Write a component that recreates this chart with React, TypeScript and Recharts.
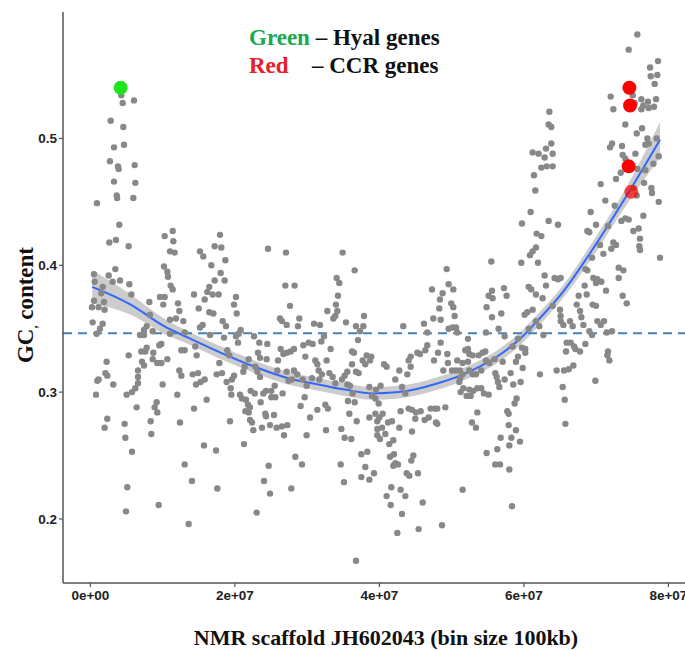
import React from 'react';
import { ComposedChart, Scatter, Line, Area, XAxis, YAxis, ReferenceLine } from 'recharts';

// Axis ticks
const xTicks = [0, 2e7, 4e7, 6e7, 8e7];
const xTickLabels = ['0e+00', '2e+07', '4e+07', '6e+07', '8e+07'];
const yTicks = [0.2, 0.3, 0.4, 0.5];
const yTickLabels = ['0.2', '0.3', '0.4', '0.5'];

// Genome-wide mean GC (dashed line)
const meanGC = 0.3465;

// Bins: [position in Mb, GC content]
const binsMb: [number, number][] = [
  [4.28,0.534],[4.47,0.528],[6.03,0.530],[2.81,0.514],[4.56,0.509],[3.27,0.493],[4.65,0.495],[2.71,0.482],[3.82,0.478],[3.91,0.476],
  [6.13,0.479],[3.27,0.466],[6.22,0.465],[3.64,0.455],[3.70,0.453],[5.94,0.453],[0.91,0.449],[4.00,0.432],[2.62,0.418],[3.54,0.420],
  [5.30,0.415],[10.28,0.423],[11.39,0.427],[11.48,0.419],[11.02,0.411],[11.66,0.410],[10.19,0.399],[10.65,0.395],[10.74,0.391],[11.11,0.384],
  [11.39,0.381],[0.50,0.393],[0.59,0.387],[2.53,0.392],[3.45,0.397],[3.08,0.387],[4.10,0.388],[5.39,0.385],[5.67,0.377],[1.70,0.383],
  [1.51,0.378],[0.50,0.372],[1.88,0.371],[0.22,0.367],[1.14,0.367],[1.97,0.365],[8.16,0.371],[9.63,0.375],[10.28,0.375],[10.09,0.369],
  [12.12,0.370],[12.31,0.364],[8.25,0.361],[11.02,0.357],[11.85,0.358],[12.86,0.356],[0.31,0.355],[1.70,0.354],[1.33,0.350],[0.87,0.346],
  [7.79,0.352],[7.42,0.349],[6.87,0.345],[7.42,0.345],[8.62,0.348],[11.02,0.346],[13.05,0.347],[7.79,0.335],[7.05,0.332],[7.60,0.332],
  [8.71,0.331],[9.82,0.338],[9.54,0.337],[12.59,0.333],[13.05,0.333],[5.30,0.329],[8.62,0.326],[9.26,0.323],[9.82,0.323],[10.65,0.326],
  [7.14,0.324],[7.42,0.321],[2.25,0.324],[6.59,0.317],[12.31,0.317],[12.59,0.313],[1.14,0.310],[0.96,0.309],[2.07,0.315],[2.34,0.313],
  [3.17,0.306],[6.59,0.312],[6.59,0.307],[6.22,0.303],[5.76,0.300],[5.02,0.298],[10.00,0.306],[0.78,0.298],[12.03,0.298],[6.40,0.288],
  [9.17,0.292],[8.89,0.288],[9.26,0.284],[2.34,0.279],[1.97,0.272],[8.34,0.277],[12.40,0.276],[4.74,0.275],[4.84,0.264],[8.43,0.267],
  [5.76,0.253],[13.05,0.243],[5.11,0.225],[9.45,0.211],[4.93,0.206],[13.60,0.196],
  [17.94,0.424],[17.20,0.415],[18.12,0.414],[15.17,0.411],[15.63,0.407],[18.68,0.404],[16.74,0.400],[18.03,0.394],[17.20,0.388],[18.58,0.388],
  [16.46,0.383],[16.19,0.379],[16.92,0.377],[17.75,0.377],[14.34,0.377],[15.82,0.373],[14.99,0.366],[16.46,0.363],[17.02,0.362],[20.15,0.375],
  [19.88,0.369],[20.25,0.362],[24.58,0.413],[27.07,0.410],[26.98,0.384],[28.27,0.384],[27.63,0.368],[26.24,0.358],[26.52,0.356],[27.17,0.353],
  [28.92,0.358],[28.73,0.352],[18.31,0.356],[18.77,0.352],[15.54,0.353],[15.17,0.351],[16.56,0.345],[18.49,0.343],[20.15,0.344],[20.52,0.346],
  [20.80,0.349],[20.43,0.339],[22.65,0.344],[23.38,0.339],[24.49,0.338],[26.34,0.334],[27.17,0.331],[26.71,0.330],[27.72,0.332],[28.18,0.334],
  [29.47,0.337],[30.21,0.339],[30.76,0.338],[29.75,0.328],[14.52,0.336],[14.71,0.329],[18.95,0.333],[19.23,0.329],[17.85,0.323],[21.91,0.326],
  [23.20,0.331],[23.48,0.327],[24.40,0.326],[21.35,0.320],[21.17,0.316],[22.83,0.320],[23.11,0.316],[23.48,0.312],[25.97,0.325],[25.87,0.317],
  [27.17,0.316],[28.18,0.317],[28.64,0.314],[27.90,0.310],[27.44,0.309],[29.38,0.310],[29.93,0.305],[30.67,0.311],[14.89,0.315],[14.16,0.314],
  [17.48,0.314],[18.22,0.315],[14.62,0.306],[15.26,0.308],[15.82,0.310],[18.86,0.308],[19.60,0.310],[19.88,0.313],[19.42,0.303],[19.51,0.298],
  [20.71,0.298],[20.98,0.295],[21.54,0.294],[22.18,0.301],[22.74,0.299],[23.94,0.299],[24.31,0.301],[25.04,0.301],[25.51,0.305],[25.60,0.296],
  [25.04,0.296],[26.61,0.299],[21.81,0.290],[22.09,0.288],[23.57,0.292],[21.45,0.285],[21.91,0.284],[22.09,0.278],[22.37,0.276],[22.55,0.270],
  [24.21,0.283],[24.31,0.281],[25.41,0.282],[23.75,0.272],[24.86,0.274],[25.78,0.272],[26.52,0.273],[27.26,0.274],[26.80,0.266],[29.10,0.289],
  [29.66,0.296],[30.40,0.280],[29.93,0.266],[16.09,0.294],[14.34,0.287],[19.32,0.277],[15.72,0.258],[17.39,0.254],[21.26,0.259],[14.06,0.230],
  [17.57,0.224],[24.67,0.242],[24.03,0.230],[24.86,0.220],[28.37,0.249],[29.29,0.243],[27.81,0.224],[23.01,0.205],
  [34.91,0.410],[36.58,0.396],[34.08,0.390],[34.45,0.386],[34.27,0.376],[33.99,0.369],[32.79,0.364],[34.18,0.364],[33.90,0.360],[33.62,0.358],
  [37.87,0.360],[37.78,0.352],[36.76,0.352],[35.38,0.355],[30.95,0.354],[31.78,0.353],[37.31,0.348],[37.04,0.341],[32.33,0.344],[31.96,0.340],
  [33.25,0.334],[36.21,0.332],[36.48,0.331],[38.24,0.329],[38.88,0.328],[37.68,0.325],[38.70,0.325],[38.05,0.322],[31.13,0.325],[31.41,0.322],
  [32.70,0.325],[36.21,0.322],[36.76,0.316],[37.13,0.315],[35.56,0.316],[35.19,0.313],[31.59,0.317],[32.05,0.314],[31.69,0.310],[33.07,0.315],
  [33.53,0.312],[33.90,0.307],[34.82,0.310],[35.56,0.306],[35.93,0.305],[40.64,0.322],[41.00,0.320],[42.76,0.317],[44.05,0.325],[44.33,0.328],
  [45.25,0.331],[45.62,0.330],[46.63,0.337],[46.36,0.333],[47.56,0.325],[47.28,0.381],[46.17,0.354],[47.46,0.358],[43.31,0.352],[46.63,0.347],
  [42.20,0.310],[44.33,0.320],[43.87,0.314],[43.13,0.304],[43.59,0.299],[40.17,0.305],[39.53,0.302],[38.61,0.304],[38.97,0.297],[39.44,0.295],
  [39.90,0.291],[36.30,0.299],[36.58,0.292],[35.65,0.293],[31.41,0.286],[32.52,0.290],[32.88,0.287],[35.84,0.283],[36.85,0.277],[38.61,0.280],
  [39.44,0.283],[39.99,0.280],[40.45,0.283],[39.71,0.277],[40.36,0.272],[41.19,0.276],[41.74,0.277],[42.76,0.272],[42.94,0.285],[44.05,0.287],
  [44.51,0.286],[45.06,0.284],[45.71,0.285],[44.97,0.279],[46.26,0.278],[46.82,0.280],[47.09,0.287],[47.65,0.287],[47.83,0.276],[44.51,0.269],
  [32.61,0.270],[34.73,0.271],[35.19,0.264],[36.11,0.263],[39.71,0.271],[39.71,0.266],[40.08,0.263],[40.82,0.267],[41.93,0.262],[41.37,0.259],
  [38.33,0.253],[37.50,0.251],[41.47,0.249],[42.02,0.251],[42.20,0.244],[41.93,0.242],[42.57,0.243],[44.70,0.250],[44.42,0.246],[34.64,0.243],
  [38.05,0.241],[39.25,0.236],[37.50,0.233],[38.61,0.231],[43.77,0.236],[44.14,0.234],[45.34,0.236],[35.10,0.229],[41.65,0.225],[41.00,0.218],
  [42.94,0.223],[43.59,0.218],[41.56,0.211],[45.99,0.213],[43.13,0.204],[42.48,0.189],[45.43,0.192],[36.76,0.167],
  [63.52,0.521],[63.42,0.511],[63.79,0.509],[63.79,0.496],[63.06,0.492],[61.21,0.489],[62.04,0.488],[63.98,0.488],[62.87,0.485],[62.41,0.477],
  [63.15,0.478],[63.98,0.478],[61.39,0.471],[61.58,0.459],[60.93,0.442],[63.42,0.435],[64.72,0.432],[59.73,0.433],[61.76,0.425],[62.41,0.423],
  [61.67,0.414],[61.21,0.411],[60.84,0.408],[61.95,0.402],[59.64,0.402],[55.49,0.403],[49.31,0.397],[62.87,0.392],[64.25,0.390],[64.72,0.389],
  [60.66,0.383],[61.02,0.381],[61.67,0.377],[62.59,0.374],[63.06,0.384],[63.98,0.368],[65.00,0.365],[65.08,0.360],[55.58,0.380],[55.12,0.376],
  [55.67,0.374],[57.24,0.382],[57.61,0.376],[54.84,0.367],[55.58,0.359],[56.87,0.362],[60.10,0.361],[60.47,0.363],[61.21,0.365],[61.67,0.356],
  [49.58,0.385],[50.23,0.381],[48.38,0.373],[48.75,0.378],[49.95,0.370],[50.23,0.367],[50.41,0.360],[48.29,0.366],[48.48,0.357],[49.58,0.350],
  [50.14,0.351],[50.60,0.351],[50.78,0.347],[52.26,0.342],[54.75,0.347],[56.50,0.350],[57.33,0.344],[58.44,0.336],[59.18,0.342],[59.73,0.335],
  [60.19,0.334],[60.19,0.331],[59.18,0.328],[60.66,0.350],[62.13,0.352],[62.69,0.345],[48.48,0.339],[48.11,0.331],[49.40,0.330],[52.26,0.334],
  [51.89,0.333],[52.44,0.330],[52.90,0.329],[53.74,0.329],[54.29,0.331],[54.66,0.332],[49.49,0.323],[50.78,0.325],[51.52,0.323],[52.26,0.324],
  [54.75,0.325],[55.21,0.323],[55.95,0.326],[57.06,0.324],[58.90,0.324],[48.85,0.317],[50.04,0.317],[50.60,0.317],[51.15,0.317],[51.52,0.314],
  [52.44,0.317],[52.90,0.314],[53.37,0.314],[54.10,0.317],[56.04,0.315],[56.23,0.312],[58.16,0.315],[59.83,0.319],[62.22,0.314],[64.53,0.317],
  [51.15,0.311],[51.06,0.308],[56.41,0.308],[57.33,0.310],[56.60,0.304],[59.55,0.308],[58.53,0.306],[51.61,0.303],[51.24,0.300],[52.44,0.302],
  [52.98,0.301],[53.55,0.303],[54.10,0.303],[54.47,0.299],[55.12,0.298],[52.07,0.297],[52.63,0.297],[49.12,0.288],[48.01,0.287],[58.99,0.295],
  [58.72,0.291],[57.70,0.285],[57.89,0.283],[53.55,0.284],[48.01,0.275],[52.81,0.276],[53.37,0.272],[57.89,0.274],[58.90,0.270],[58.26,0.264],
  [56.78,0.264],[59.46,0.261],[56.32,0.255],[54.84,0.252],[57.98,0.258],[56.04,0.243],[56.69,0.243],[57.98,0.239],[51.52,0.223],[58.35,0.210],
  [48.66,0.195],
  [75.70,0.582],[74.50,0.570],[78.56,0.561],[77.46,0.556],[78.47,0.550],[77.55,0.549],[78.10,0.543],[72.01,0.533],[72.38,0.523],[75.06,0.534],
  [75.33,0.528],[76.26,0.531],[76.53,0.526],[77.18,0.529],[78.29,0.531],[76.26,0.523],[77.27,0.524],[78.01,0.525],[74.04,0.511],[76.35,0.508],
  [75.61,0.504],[77.09,0.500],[78.38,0.500],[72.20,0.496],[71.92,0.493],[73.58,0.494],[76.81,0.495],[77.27,0.496],[75.43,0.488],[73.67,0.487],
  [74.04,0.484],[78.66,0.486],[77.92,0.480],[73.40,0.473],[72.75,0.468],[75.70,0.476],[76.81,0.475],[70.63,0.464],[76.63,0.465],[77.64,0.461],
  [77.73,0.457],[75.15,0.461],[75.61,0.455],[71.27,0.451],[78.66,0.450],[72.57,0.447],[69.24,0.442],[74.04,0.437],[73.49,0.435],[74.50,0.436],
  [76.53,0.439],[69.98,0.432],[71.64,0.431],[68.78,0.427],[69.06,0.426],[75.15,0.427],[75.89,0.429],[76.07,0.421],[75.98,0.415],[76.07,0.412],
  [72.38,0.418],[72.75,0.416],[72.10,0.413],[70.54,0.416],[71.00,0.409],[69.43,0.406],[78.84,0.406],[68.51,0.397],[68.78,0.396],[73.12,0.398],
  [73.77,0.396],[73.12,0.390],[69.61,0.390],[70.17,0.389],[70.72,0.387],[69.98,0.386],[71.37,0.380],[68.41,0.384],[65.09,0.390],[67.58,0.376],
  [68.69,0.377],[73.67,0.376],[74.23,0.370],[69.52,0.369],[69.98,0.368],[67.31,0.369],[67.77,0.364],[67.95,0.359],[68.23,0.353],[65.09,0.356],
  [65.46,0.353],[66.38,0.356],[66.75,0.352],[70.17,0.356],[71.09,0.356],[70.63,0.353],[69.06,0.348],[69.43,0.345],[71.46,0.347],[72.20,0.348],
  [65.92,0.339],[66.48,0.339],[66.94,0.336],[67.12,0.334],[68.51,0.338],[65.83,0.332],[67.77,0.332],[71.64,0.332],[71.55,0.329],[71.83,0.325],
  [66.85,0.321],[66.20,0.318],[65.55,0.317],[69.89,0.309],[65.37,0.304],[65.65,0.294],[65.74,0.275]
];

// Highlighted genes
const hyalMb: [number, number][] = [[4.19, 0.540]];
const ccrMb: [number, number][] = [[74.60, 0.540], [74.69, 0.526], [74.50, 0.478]];
const ccrUnderMb: [number, number][] = [[74.87, 0.458]];

// Loess fit with confidence band
const smoothX = [0.26, 5.58, 10.19, 13.51, 18.08, 22.74, 27.35, 30.67, 35.24, 38.98, 42.67, 48.11, 52.4, 57.07, 59.83, 61.67, 65.27, 69.56, 74.23, 78.84];
const smoothY = [0.383, 0.369, 0.352, 0.343, 0.331, 0.320, 0.311, 0.307, 0.302, 0.299, 0.300, 0.307, 0.316, 0.331, 0.344, 0.355, 0.378, 0.413, 0.455, 0.499];
const smoothLo = [0.370, 0.361, 0.346, 0.338, 0.326, 0.315, 0.306, 0.302, 0.297, 0.294, 0.295, 0.302, 0.311, 0.326, 0.339, 0.350, 0.373, 0.407, 0.448, 0.485];
const smoothHi = [0.396, 0.377, 0.358, 0.348, 0.336, 0.325, 0.316, 0.312, 0.307, 0.304, 0.305, 0.312, 0.321, 0.336, 0.349, 0.360, 0.383, 0.419, 0.462, 0.513];

const MB = 1e6;
const toPts = (arr: [number, number][]) => arr.map(([x, y]) => ({ x: x * MB, y }));
const grayPts = toPts(binsMb);
const hyalPts = toPts(hyalMb);
const ccrPts = toPts(ccrMb);
const ccrUnderPts = toPts(ccrUnderMb);
const smoothData = smoothX.map((x, i) => ({ x: x * MB, y: smoothY[i], band: [smoothLo[i], smoothHi[i]] }));

const dot = (r: number, fill: string, opacity = 1) => (p: any) =>
  <circle cx={p.cx} cy={p.cy} r={r} fill={fill} fillOpacity={opacity} />;

const W = 689;
const H = 651;
const serif = '"Liberation Serif", "Times New Roman", serif';
const sans = '"Liberation Sans", Arial, sans-serif';

export default function App() {
  return (
    <div style={{ position: 'absolute', left: 0, top: 0, width: 685, height: 651, overflow: 'hidden', background: '#fff' }}>
      <ComposedChart width={W} height={H} margin={{ top: 12, right: 0, bottom: 0, left: 0 }}>
        <XAxis
          dataKey="x"
          type="number"
          domain={[-3.79e6, 82.85e6]}
          allowDataOverflow
          ticks={xTicks}
          interval={0}
          tickFormatter={(v: number) => xTickLabels[xTicks.indexOf(v)] ?? ''}
          height={68}
          axisLine={{ stroke: '#555555', strokeWidth: 1.5 }}
          tickLine={{ stroke: '#555555', strokeWidth: 1.2 }}
          tickSize={4}
          tickMargin={3}
          tick={{ fill: '#222222', fontSize: 13.5, fontWeight: 700, fontFamily: sans }}
        />
        <YAxis
          dataKey="y"
          type="number"
          domain={[0.1495, 0.5997]}
          allowDataOverflow
          ticks={yTicks}
          interval={0}
          tickFormatter={(v: number) => yTickLabels[yTicks.indexOf(v)] ?? ''}
          width={63}
          axisLine={{ stroke: '#555555', strokeWidth: 1.5 }}
          tickLine={{ stroke: '#555555', strokeWidth: 1.2 }}
          tickSize={4}
          tickMargin={2}
          tick={{ fill: '#222222', fontSize: 13.5, fontWeight: 700, fontFamily: sans }}
        />
        <Scatter data={grayPts} dataKey="y" shape={dot(3.2, '#888888')} isAnimationActive={false} />
        <Area data={smoothData} dataKey="band" type="monotone" stroke="none" fill="#999999" fillOpacity={0.5} isAnimationActive={false} activeDot={false} />
        <Line data={smoothData} dataKey="y" type="monotone" stroke="#3366FF" strokeWidth={2} dot={false} activeDot={false} isAnimationActive={false} />
        <ReferenceLine y={meanGC} stroke="#4682B4" strokeWidth={2} strokeDasharray="9 6" />
        <Scatter data={ccrUnderPts} dataKey="y" shape={dot(7, '#FF0000', 0.7)} isAnimationActive={false} />
        <Scatter data={ccrPts} dataKey="y" shape={dot(7, '#FF0000')} isAnimationActive={false} />
        <Scatter data={hyalPts} dataKey="y" shape={dot(7, '#1EE61E')} isAnimationActive={false} />
      </ComposedChart>
      <svg width={685} height={651} style={{ position: 'absolute', left: 0, top: 0, pointerEvents: 'none' }}>
        <text x={249} y={45} fontFamily={serif} fontWeight={700} fontSize={23} fill="#111">
          <tspan fill="#1BA84F">Green</tspan>
          <tspan> – Hyal genes</tspan>
        </text>
        <text x={249} y={73} fontFamily={serif} fontWeight={700} fontSize={23} fill="#111">
          <tspan fill="#E8202A">Red</tspan>
          <tspan x={312}>– CCR genes</tspan>
        </text>
        <text x={386} y={645} textAnchor="middle" fontFamily={serif} fontWeight={700} fontSize={22} fill="#111">
          NMR scaffold JH602043 (bin size 100kb)
        </text>
        <text x={33} y={305} transform="rotate(-90 33 305)" textAnchor="middle" fontFamily={serif} fontWeight={700} fontSize={23} fill="#111">
          GC<tspan fontSize={12} dy={4}>,</tspan><tspan dy={-4}> content</tspan>
        </text>
      </svg>
    </div>
  );
}
